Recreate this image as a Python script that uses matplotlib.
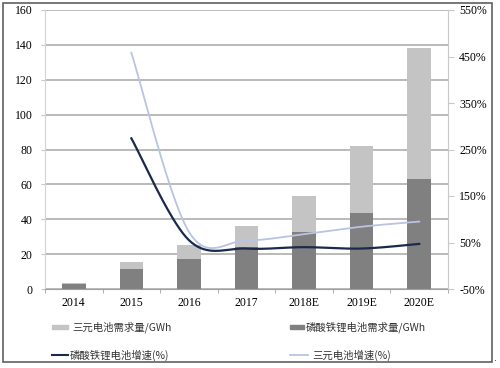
import numpy as np
import matplotlib
matplotlib.use("Agg")
import matplotlib.pyplot as plt
from matplotlib.patches import Rectangle
from matplotlib.lines import Line2D

# ---- data ----
years = ["2014", "2015", "2016", "2017", "2018E", "2019E", "2020E"]
lfp_demand = [3.0, 11.6, 17.4, 24.3, 32.5, 43.8, 63.0]        # 磷酸铁锂电池需求量/GWh
ncm_demand = [0.5, 4.0, 7.8, 11.8, 21.0, 38.4, 75.2]          # 三元电池需求量/GWh (stacked on top)
lfp_growth = [None, 274, 55, 37, 40, 37, 47]                  # 磷酸铁锂电池增速(%)
ncm_growth = [None, 458, 73, 55, 68, 84, 95]                  # 三元电池增速(%)

left_ticks = [0, 20, 40, 60, 80, 100, 120, 140, 160]
right_ticks = [-50, 50, 150, 250, 350, 450, 550]

c_dark = "#808080"
c_light = "#c4c4c4"
c_navy = "#1b2a4a"
c_lblue = "#b8c4e2"
c_grid = "#b4b4b4"

W, H = 500, 368
fig = plt.figure(figsize=(5.0, 3.68), dpi=100)
serif = "Liberation Serif"
cjk = ["Noto Sans CJK SC", "DejaVu Sans"]

ax = fig.add_axes([45 / W, 1 - 289 / H, (448 - 45) / W, (289 - 10) / H])
x = np.arange(len(years))
ax.set_xlim(-0.5, len(years) - 0.5)
ax.set_ylim(0, 160)
ax.set_yticks(left_ticks)
ax.yaxis.grid(True, color=c_grid, lw=1.3)
ax.set_axisbelow(True)
ax.bar(x, lfp_demand, width=0.41, color=c_dark, zorder=2)
ax.bar(x, ncm_demand, width=0.41, bottom=lfp_demand, color=c_light, zorder=2)

ax.set_xticks(x)
ax.set_xticklabels(years, fontfamily=serif, fontsize=8.5)
ax.set_xticks(np.arange(-0.5, len(years) - 0.4, 1), minor=True)
ax.tick_params(axis="x", which="major", length=0, pad=6)
ax.tick_params(axis="x", which="minor", length=3, color="#a0a0a0", direction="out")
ax.tick_params(axis="y", length=3, color="#c8c8c8", pad=6)
for lab in ax.get_yticklabels():
    lab.set_fontfamily(serif)
    lab.set_fontsize(8.5)
for s in ["top", "right"]:
    ax.spines[s].set_visible(False)
ax.spines["left"].set_color("#d4d4d4")
ax.spines["bottom"].set_color("#a0a0a0")

ax2 = ax.twinx()
ax2.set_ylim(-50, 550)
ax2.set_yticks(right_ticks)
ax2.set_yticklabels([f"{t}%" for t in right_ticks], fontfamily=serif, fontsize=8.5)
ax2.tick_params(axis="y", length=4, color="#c8c8c8", pad=4)
for s in ["top", "left", "bottom"]:
    ax2.spines[s].set_visible(False)
ax2.spines["right"].set_color("#c8c8c8")


def smooth(xs, ys, n=40):
    """Excel-like smoothed line: uniform Catmull-Rom Bezier through the points."""
    P = np.column_stack([xs, ys]).astype(float)
    m = len(P)
    out = [P[0]]
    for i in range(m - 1):
        p0, p1 = P[i], P[i + 1]
        prev = P[i - 1] if i > 0 else P[i]
        nxt = P[i + 2] if i + 2 < m else P[i + 1]
        c1 = p0 + (p1 - prev) / 6.0
        c2 = p1 - (nxt - p0) / 6.0
        t = np.linspace(0, 1, n)[1:, None]
        seg = ((1 - t) ** 3) * p0 + 3 * ((1 - t) ** 2) * t * c1 + 3 * (1 - t) * t ** 2 * c2 + t ** 3 * p1
        out.extend(seg)
    return np.array(out)


gx = [i for i, v in enumerate(lfp_growth) if v is not None]
d1 = smooth(gx, [lfp_growth[i] for i in gx])
d2 = smooth(gx, [ncm_growth[i] for i in gx])
ax2.plot(d2[:, 0], d2[:, 1], color=c_lblue, lw=1.3, zorder=3)
ax2.plot(d1[:, 0], d1[:, 1], color=c_navy, lw=1.6, zorder=4)

# ---- legend (manual placement in figure pixels) ----
def fx(px):
    return px / W

def fy(py):
    return 1 - py / H

fig.add_artist(Rectangle((fx(52), fy(329)), 16 / W, 4 / H, color=c_light, transform=fig.transFigure))
fig.text(fx(72), fy(327), "三元电池需求量/GWh", fontfamily=cjk, fontsize=7.5, va="center", color="#333333")
fig.add_artist(Rectangle((fx(290), fy(329)), 14 / W, 4 / H, color=c_dark, transform=fig.transFigure))
fig.text(fx(306), fy(327), "磷酸铁锂电池需求量/GWh", fontfamily=cjk, fontsize=7.5, va="center", color="#333333")
fig.add_artist(Line2D([fx(52), fx(68)], [fy(355), fy(355)], color=c_navy, lw=1.5, transform=fig.transFigure))
fig.text(fx(70), fy(355), "磷酸铁锂电池增速(%)", fontfamily=cjk, fontsize=7.5, va="center", color="#333333")
fig.add_artist(Line2D([fx(290), fx(308)], [fy(355), fy(355)], color=c_lblue, lw=1.3, transform=fig.transFigure))
fig.text(fx(312), fy(355), "三元电池增速(%)", fontfamily=cjk, fontsize=7.5, va="center", color="#333333")

# outer frame
fig.add_artist(Rectangle((fx(3), fy(362)), (492 - 3) / W, (362 - 3) / H, fill=False,
                         edgecolor="#606060", lw=1.2, transform=fig.transFigure))
fig.text(fx(494), fy(358), ".", fontsize=7, color="#444444", va="center")

fig.savefig("out.png", dpi=100)
